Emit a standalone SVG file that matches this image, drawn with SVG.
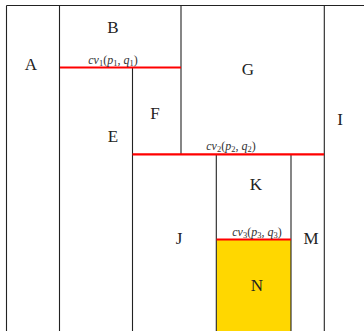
<svg xmlns="http://www.w3.org/2000/svg" width="364" height="331" viewBox="0 0 364 331">
<style>
.b{stroke:#222;stroke-width:1.1;fill:none}
.r{stroke:#f00;stroke-width:2.2;fill:none}
.t{font-family:'Liberation Serif','DejaVu Serif',serif;font-size:17px;fill:#222;text-anchor:middle}
.m{font-family:'Liberation Serif','DejaVu Serif',serif;font-size:12px;fill:#333;text-anchor:middle}
.i{font-style:italic}
.s{font-size:8.5px}
</style>
<rect id="N-fill" x="216.5" y="239.5" width="74.5" height="92" fill="#ffd700"/>
<g id="connectors">
<line class="b" x1="6.5" y1="5.5" x2="364" y2="5.5"/>
<line class="b" x1="6.5" y1="5.5" x2="6.5" y2="331"/>
<line class="b" x1="59.5" y1="5.5" x2="59.5" y2="331"/>
<line class="b" x1="132.5" y1="67.5" x2="132.5" y2="331"/>
<line class="b" x1="181" y1="5.5" x2="181" y2="154"/>
<line class="b" x1="324.3" y1="5.5" x2="324.3" y2="331"/>
<line class="b" x1="216.3" y1="154" x2="216.3" y2="331"/>
<line class="b" x1="291" y1="154" x2="291" y2="331"/>
<line class="r" x1="60" y1="67.5" x2="181" y2="67.5"/>
<line class="r" x1="132.5" y1="154.3" x2="324" y2="154.3"/>
<line class="r" x1="216.5" y1="239.5" x2="291" y2="239.5"/>
</g>
<g id="A"><text class="t" x="31" y="70">A</text></g>
<g id="B"><text class="t" x="113" y="33">B</text></g>
<g id="G"><text class="t" x="248" y="75">G</text></g>
<g id="F"><text class="t" x="155" y="119">F</text></g>
<g id="E"><text class="t" x="113" y="142">E</text></g>
<g id="I"><text class="t" x="340" y="125">I</text></g>
<g id="K"><text class="t" x="256" y="190">K</text></g>
<g id="J"><text class="t" x="179" y="244">J</text></g>
<g id="M"><text class="t" x="311" y="244">M</text></g>
<g id="N"><text class="t" x="257" y="291">N</text></g>
<g id="cv1"><text class="m" x="113" y="64"><tspan class="i">cv</tspan><tspan class="s" dy="2">1</tspan><tspan dy="-2">(</tspan><tspan class="i">p</tspan><tspan class="s" dy="2">1</tspan><tspan dy="-2">, </tspan><tspan class="i">q</tspan><tspan class="s" dy="2">1</tspan><tspan dy="-2">)</tspan></text></g>
<g id="cv2"><text class="m" x="231" y="150"><tspan class="i">cv</tspan><tspan class="s" dy="2">2</tspan><tspan dy="-2">(</tspan><tspan class="i">p</tspan><tspan class="s" dy="2">2</tspan><tspan dy="-2">, </tspan><tspan class="i">q</tspan><tspan class="s" dy="2">2</tspan><tspan dy="-2">)</tspan></text></g>
<g id="cv3"><text class="m" x="257" y="236"><tspan class="i">cv</tspan><tspan class="s" dy="2">3</tspan><tspan dy="-2">(</tspan><tspan class="i">p</tspan><tspan class="s" dy="2">3</tspan><tspan dy="-2">, </tspan><tspan class="i">q</tspan><tspan class="s" dy="2">3</tspan><tspan dy="-2">)</tspan></text></g>
</svg>
